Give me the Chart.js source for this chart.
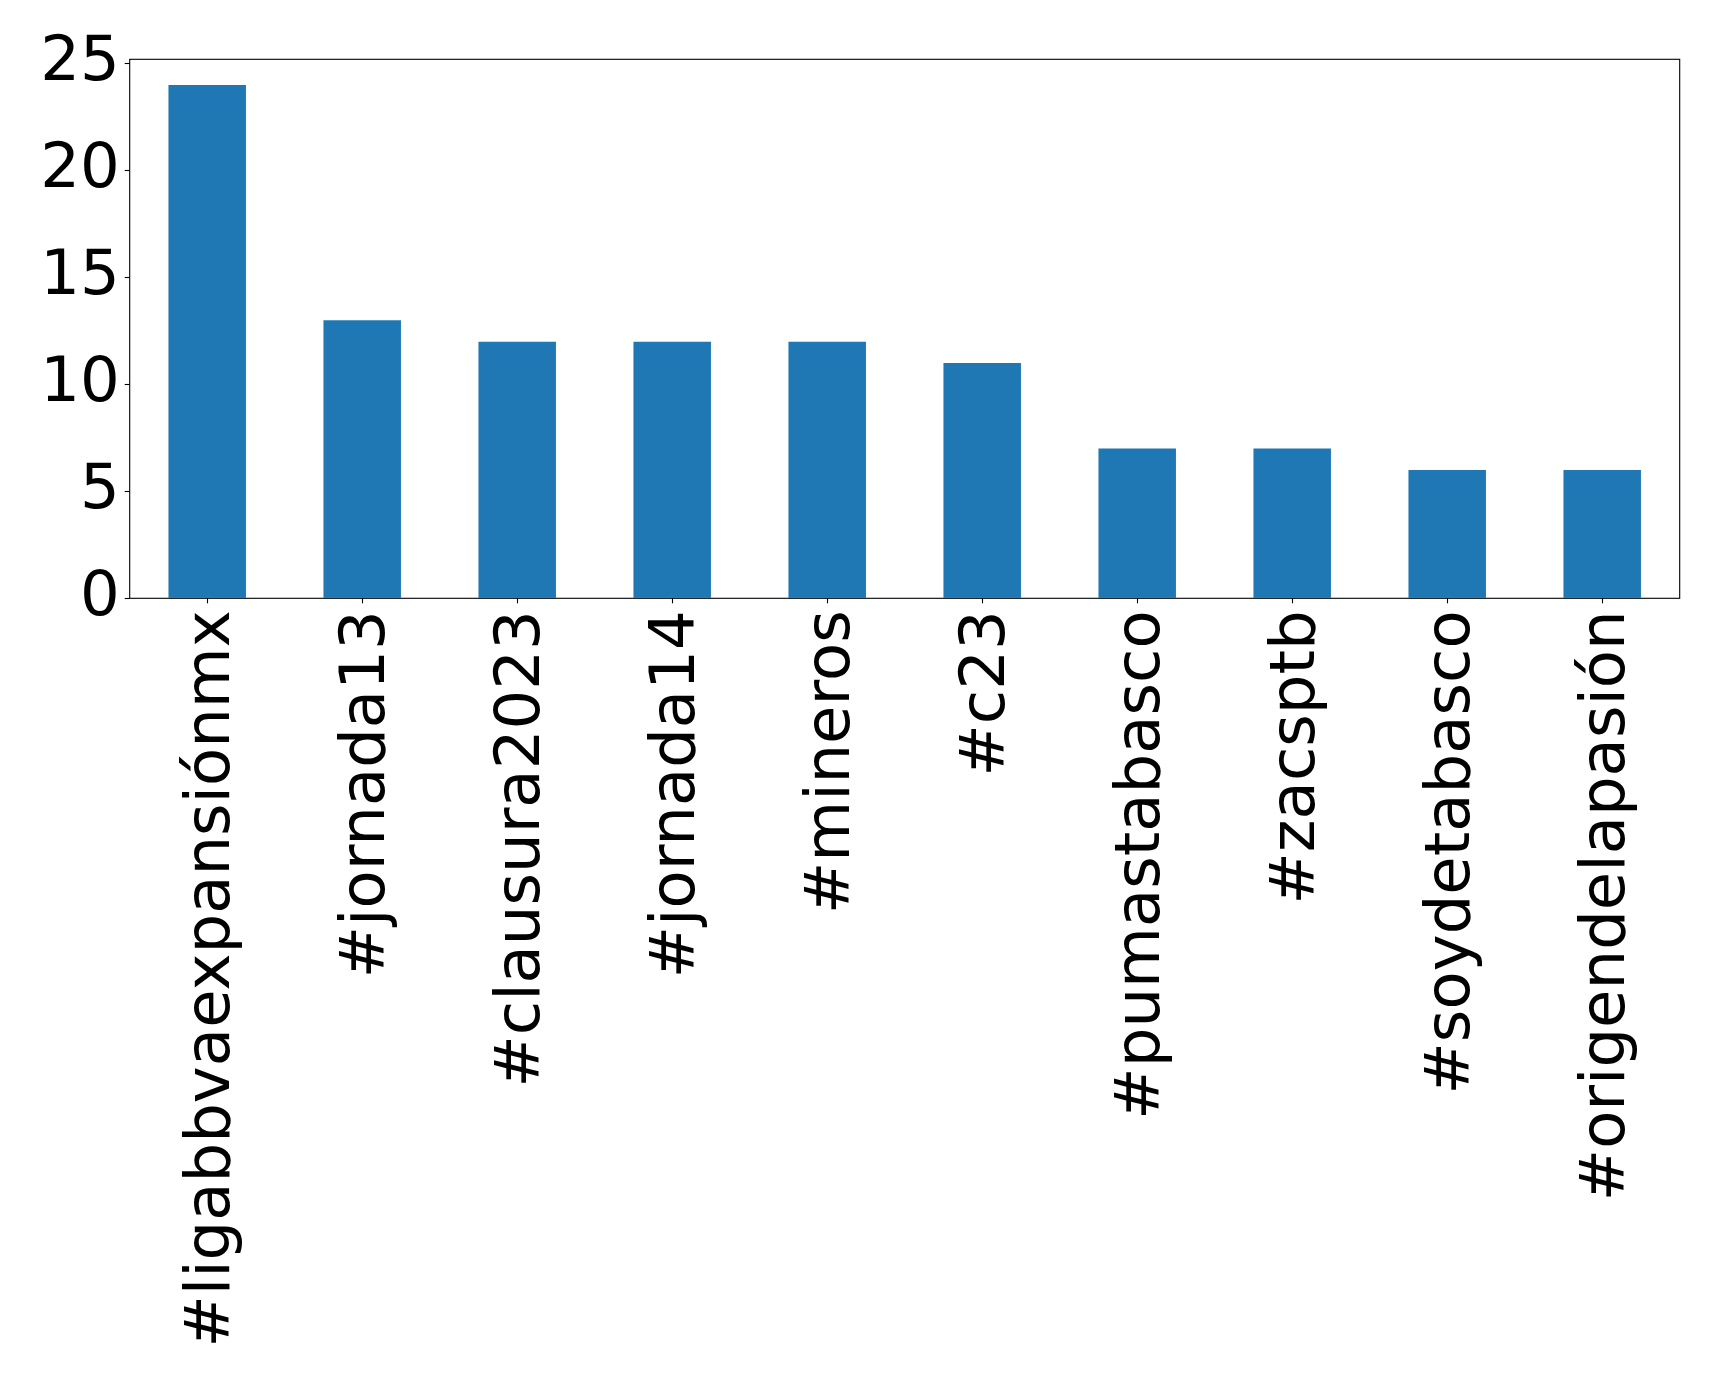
<!DOCTYPE html>
<html>
<head>
<meta charset="utf-8">
<script src="https://cdn.jsdelivr.net/npm/chart.js@4/dist/chart.umd.min.js"></script>
<style>
html,body{margin:0;padding:0;background:#fff;}
#wrap{width:1719px;height:1384px;}
</style>
</head>
<body>
<div id="wrap"><canvas id="c" width="1719" height="1384"></canvas></div>
<script>
const categories = ["#ligabbvaexpansiónmx","#jornada13","#clausura2023","#jornada14","#mineros","#c23","#pumastabasco","#zacsptb","#soydetabasco","#origendelapasión"];
const counts = [24, 13, 12, 12, 12, 11, 7, 7, 6, 6];
const yTicks = [0, 5, 10, 15, 20, 25];

const PLOT_LEFT = 129.7, PLOT_TOP = 59.3, PLOT_RIGHT = 1679.7, PLOT_BOTTOM = 598.3;
const W = 1719, H = 1384;
const FONT = {family: "'DejaVu Sans', sans-serif", size: 62.5};

const boxPlugin = {
  id: 'box',
  afterDraw(chart) {
    const a = chart.chartArea, ctx = chart.ctx;
    ctx.save();
    ctx.strokeStyle = '#000';
    ctx.lineWidth = 1.1;
    ctx.strokeRect(a.left, a.top, a.right - a.left, a.bottom - a.top);
    ctx.restore();
  }
};

new Chart(document.getElementById('c'), {
  type: 'bar',
  data: {
    labels: categories,
    datasets: [{
      data: counts,
      backgroundColor: '#1f77b4',
      borderWidth: 0,
      categoryPercentage: 1.0,
      barPercentage: 0.5
    }]
  },
  options: {
    responsive: false,
    devicePixelRatio: 1,
    animation: false,
    layout: {padding: {left: 0, top: PLOT_TOP, right: W - PLOT_RIGHT, bottom: 0}},
    plugins: {legend: {display: false}, tooltip: {enabled: false}},
    scales: {
      x: {
        offset: true,
        grid: {display: true, drawOnChartArea: false, offset: false, tickLength: 5, color: '#000', tickWidth: 1.1},
        border: {display: false},
        ticks: {autoSkip: false, maxRotation: 90, minRotation: 90, padding: 7, labelOffset: 6, color: '#000', font: FONT},
        afterFit(scale) { scale.height = H - PLOT_BOTTOM; }
      },
      y: {
        min: 0,
        max: 25.2,
        grid: {display: true, drawOnChartArea: false, tickLength: 5, color: '#000', tickWidth: 1.1},
        border: {display: false},
        afterBuildTicks(scale) { scale.ticks = yTicks.map(v => ({value: v})); },
        ticks: {padding: 5, color: '#000', font: FONT, includeBounds: false},
        afterFit(scale) { scale.width = PLOT_LEFT; }
      }
    }
  },
  plugins: [boxPlugin]
});
</script>
</body>
</html>
